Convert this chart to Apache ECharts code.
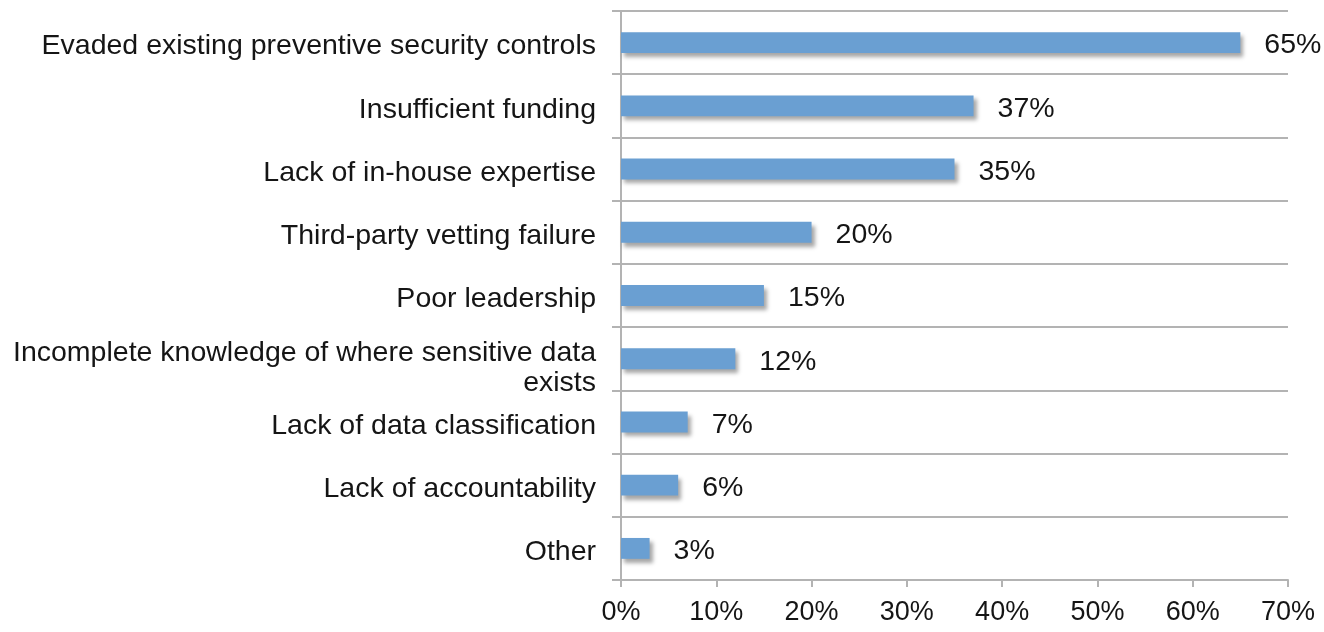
<!DOCTYPE html>
<html><head><meta charset="utf-8">
<script src="https://cdn.jsdelivr.net/npm/echarts@6/dist/echarts.min.js"></script>
<style>html,body{margin:0;padding:0;background:#fff}#c{width:1324px;height:632px}</style>
</head><body><div id="c"></div>
<script>
const categories = [
  "Evaded existing preventive security controls",
  "Insufficient funding",
  "Lack of in-house expertise",
  "Third-party vetting failure",
  "Poor leadership",
  "Incomplete knowledge of where sensitive data\nexists",
  "Lack of data classification",
  "Lack of accountability",
  "Other"
];
const values = [65, 37, 35, 20, 15, 12, 7, 6, 3];
const tickLabels = ["0%","10%","20%","30%","40%","50%","60%","70%"];

const FONT = 'Liberation Sans, Arial, sans-serif';

const chart = echarts.init(document.getElementById('c'));
chart.setOption({
  animation: false,
  grid: {left: 621, right: 36, top: 11, bottom: 52, containLabel: false},
  xAxis: {
    type: 'value', min: 0, max: 70, interval: 10,
    axisLine: {show: true, lineStyle: {color: '#b3b3b3', width: 2}},
    axisTick: {show: true, length: 7, lineStyle: {color: '#b3b3b3', width: 2}},
    splitLine: {show: false},
    axisLabel: {
      formatter: v => tickLabels[Math.round(v / 10)],
      fontFamily: FONT, fontSize: 27, color: '#151515', margin: 19
    }
  },
  yAxis: {
    type: 'category', data: categories, inverse: true,
    axisLine: {show: true, lineStyle: {color: '#b3b3b3', width: 2}},
    axisTick: {show: true, length: 9, lineStyle: {color: '#b3b3b3', width: 2}},
    splitLine: {show: true, lineStyle: {color: '#b3b3b3', width: 2}},
    axisLabel: {
      margin: 25, align: 'right',
      formatter: v => {
        const lines = v.split('\n');
        const pad = lines.length > 1 ? '{s2| }' : '{s1| }';
        return pad + '\n' + lines.map(l => '{t|' + l + '}').join('\n');
      },
      rich: {
        s1: {fontSize: 1, lineHeight: 8},
        s2: {fontSize: 1, lineHeight: 18},
        t: {fontFamily: FONT, fontSize: 28.5, color: '#151515', lineHeight: 30}
      }
    }
  },
  series: [{
    type: 'bar', data: values, barWidth: '33%',
    itemStyle: {
      color: '#6a9fd2',
      shadowColor: 'rgba(0,0,0,0.35)', shadowBlur: 4, shadowOffsetX: 3, shadowOffsetY: 4
    },
    label: {
      show: true, position: 'right', distance: 24, offset: [0, 3],
      formatter: p => p.value + '%',
      fontFamily: FONT, fontSize: 28.5, color: '#151515'
    }
  }]
});
</script>
</body></html>
